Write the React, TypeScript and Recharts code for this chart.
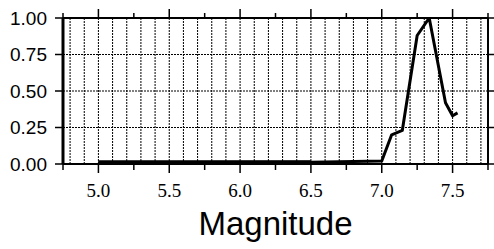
import React from 'react';
import { LineChart, Line, XAxis, YAxis, ReferenceLine } from 'recharts';

const mainSeries = [
  { m: 5.0, p: 0.01 },
  { m: 6.5, p: 0.012 },
  { m: 7.0, p: 0.02 },
  { m: 7.07, p: 0.2 },
  { m: 7.145, p: 0.23 },
  { m: 7.25, p: 0.88 },
  { m: 7.335, p: 1.0 },
  { m: 7.45, p: 0.42 },
  { m: 7.5, p: 0.33 },
  { m: 7.535, p: 0.35 },
];
const baseSeries = [
  { m: 5.0, p: 0.008 },
  { m: 6.5, p: 0.008 },
];
const xTicks = [4.75, 5.0, 5.25, 5.5, 5.75, 6.0, 6.25, 6.5, 6.75, 7.0, 7.25, 7.5, 7.75];
const xLabelTicks = [5.0, 5.5, 6.0, 6.5, 7.0, 7.5];
const yTicks = [0, 0.25, 0.5, 0.75, 1.0];
const gridX = [4.8, 4.9, 5.0, 5.1, 5.2, 5.3, 5.4, 5.5, 5.6, 5.7, 5.8, 5.9, 6.0, 6.1, 6.2, 6.3, 6.4, 6.5, 6.6, 6.7, 6.8, 6.9, 7.0, 7.1, 7.2, 7.3, 7.4, 7.5, 7.6, 7.7];
const gridY = [0.25, 0.5, 0.75];

const isMajor = (v: number) => xLabelTicks.some((t) => Math.abs(t - v) < 1e-6);

const BottomTick = (props: any) => {
  const { x, y, payload } = props;
  const major = isMajor(payload.value);
  return (
    <g>
      <line x1={x} x2={x} y1={y} y2={y + (major ? 9 : 6)} stroke="#000" strokeWidth={1.5} />
      {major && (
        <text x={x} y={y + 33} textAnchor="middle" fontFamily="'Liberation Serif', serif" fontSize={19} fill="#000">
          {payload.value.toFixed(1)}
        </text>
      )}
    </g>
  );
};

const TopTick = (props: any) => {
  const { x, y, payload } = props;
  const major = isMajor(payload.value);
  return <line x1={x} x2={x} y1={y} y2={y - (major ? 9 : 5)} stroke="#000" strokeWidth={1.5} />;
};

export default function App() {
  return (
    <div style={{ position: 'fixed', left: 0, top: 0, width: 494, height: 249, background: '#fff' }}>
      <LineChart width={494} height={249} margin={{ top: 0, right: 0, bottom: 0, left: 0 }}>
        <XAxis
          xAxisId="b"
          dataKey="m"
          type="number"
          domain={[4.75, 7.75]}
          ticks={xTicks}
          orientation="bottom"
          height={85}
          tickSize={0}
          tickMargin={0}
          tickLine={false}
          tick={<BottomTick />}
          axisLine={{ stroke: '#000', strokeWidth: 2 }}
          allowDataOverflow
          interval={0}
          label={{ value: 'Magnitude', position: 'insideBottom', offset: 14, style: { fontFamily: "'Liberation Sans', Arial, sans-serif", fontSize: 33, fill: '#000' } }}
        />
        <XAxis
          xAxisId="t"
          dataKey="m"
          type="number"
          domain={[4.75, 7.75]}
          ticks={xTicks}
          orientation="top"
          height={18}
          tickSize={0}
          tickMargin={0}
          tickLine={false}
          tick={<TopTick />}
          axisLine={{ stroke: '#000', strokeWidth: 2 }}
          allowDataOverflow
          interval={0}
        />
        <YAxis
          yAxisId="l"
          type="number"
          domain={[0, 1]}
          ticks={yTicks}
          width={63}
          tickSize={8}
          tickMargin={8}
          tickFormatter={(v: number) => v.toFixed(2)}
          tick={{ fontFamily: "'Liberation Sans', Arial, sans-serif", fontSize: 19, fill: '#000' }}
          tickLine={{ stroke: '#000', strokeWidth: 1.5 }}
          axisLine={{ stroke: '#000', strokeWidth: 3 }}
          allowDataOverflow
          interval={0}
        />
        <YAxis
          yAxisId="r"
          orientation="right"
          type="number"
          domain={[0, 1]}
          ticks={yTicks}
          width={6}
          tickSize={6}
          tickFormatter={() => ''}
          tickLine={{ stroke: '#000', strokeWidth: 1.5 }}
          axisLine={{ stroke: '#000', strokeWidth: 2 }}
          allowDataOverflow
          interval={0}
        />
        {gridX.map((g) => (
          <ReferenceLine key={'gx' + g} xAxisId="b" yAxisId="l" x={g} stroke="#000" strokeWidth={1} strokeDasharray="2 1" />
        ))}
        {gridY.map((g) => (
          <ReferenceLine key={'gy' + g} xAxisId="b" yAxisId="l" y={g} stroke="#000" strokeWidth={1} strokeDasharray="2 1" />
        ))}
        <Line
          xAxisId="b"
          yAxisId="l"
          data={baseSeries}
          dataKey="p"
          type="linear"
          stroke="#000"
          strokeWidth={5}
          dot={false}
          isAnimationActive={false}
        />
        <Line
          xAxisId="b"
          yAxisId="l"
          data={mainSeries}
          dataKey="p"
          type="linear"
          stroke="#000"
          strokeWidth={3}
          dot={false}
          strokeLinejoin="round"
          isAnimationActive={false}
        />
      </LineChart>
    </div>
  );
}
